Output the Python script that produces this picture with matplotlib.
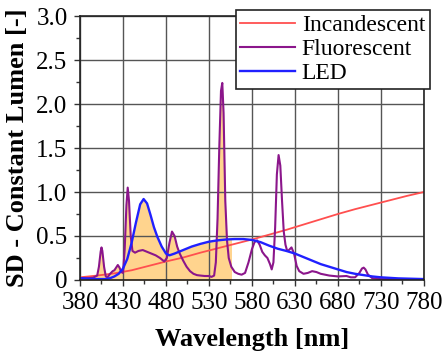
import matplotlib
matplotlib.use("Agg")
import matplotlib.pyplot as plt
from matplotlib.patches import Rectangle
from matplotlib.ticker import MultipleLocator, FixedLocator, FuncFormatter

# -------------------- Data -------------------- #

inc_nm = [380, 400, 420, 440, 460, 480, 500, 520, 540, 560, 580,
          600, 620, 640, 660, 680, 700, 720, 740, 760, 780]
inc_val = [0.03, 0.05, 0.075, 0.11, 0.16, 0.21, 0.255, 0.31, 0.36, 0.41, 0.46,
           0.515, 0.57, 0.63, 0.69, 0.75, 0.805, 0.855, 0.905, 0.955, 1.0]

flu_nm = [380, 385, 390, 395, 400, 402, 404, 405, 406, 408, 410, 412, 415, 418,
          420, 422, 424, 426, 428, 430, 432, 434, 435.5, 437, 439, 441, 444, 448,
          453, 458, 463, 468, 473, 478, 481, 484, 487, 490, 493, 496, 500, 504,
          508, 512, 516, 520, 525, 530, 533, 536, 538, 540, 542, 544, 545.5, 547,
          549, 551, 553, 556, 560, 564, 568, 572, 576, 580, 583, 586, 589, 592,
          595, 598, 601, 603, 605, 607, 609, 611, 613, 615, 617, 619, 621, 623,
          626, 629, 632, 635, 640, 645, 650, 655, 660, 670, 680, 690, 695, 700,
          705, 708, 710, 712, 715, 720, 730, 740, 760, 780]
flu_val = [0.02, 0.02, 0.02, 0.025, 0.05, 0.15, 0.32, 0.37, 0.33, 0.15, 0.04, 0.03,
           0.07, 0.1, 0.11, 0.14, 0.17, 0.14, 0.09, 0.08, 0.35, 0.85, 1.05, 0.9,
           0.5, 0.33, 0.31, 0.33, 0.34, 0.32, 0.3, 0.28, 0.25, 0.21, 0.25, 0.42,
           0.55, 0.5, 0.38, 0.3, 0.22, 0.15, 0.1, 0.07, 0.055, 0.05, 0.045, 0.045,
           0.035, 0.05, 0.2, 0.7, 1.5, 2.15, 2.24, 1.9, 0.9, 0.45, 0.25, 0.15,
           0.09, 0.07, 0.06, 0.08, 0.2, 0.35, 0.43, 0.45, 0.4, 0.32, 0.28, 0.25,
           0.18, 0.12, 0.2, 0.6, 1.2, 1.42, 1.3, 0.9, 0.55, 0.4, 0.33, 0.34, 0.37,
           0.3, 0.16, 0.1, 0.07, 0.08, 0.1, 0.09, 0.07, 0.05, 0.04, 0.045, 0.03,
           0.03, 0.08, 0.13, 0.14, 0.12, 0.06, 0.02, 0.01, 0.01, 0.01, 0.01]

led_nm = [380, 390, 400, 410, 415, 420, 425, 430, 435, 440, 445, 450, 454, 458,
          462, 466, 470, 475, 480, 484, 490, 500, 510, 520, 530, 540, 550, 560,
          570, 580, 590, 600, 610, 620, 630, 640, 650, 660, 670, 680, 690, 700,
          710, 720, 730, 750, 780]
led_val = [0.02, 0.015, 0.01, 0.01, 0.02, 0.04, 0.07, 0.13, 0.24, 0.42, 0.65,
           0.86, 0.92, 0.87, 0.74, 0.6, 0.49, 0.38, 0.3, 0.28, 0.3, 0.34, 0.38,
           0.41, 0.435, 0.45, 0.46, 0.465, 0.465, 0.455, 0.43, 0.39, 0.355, 0.33,
           0.3, 0.26, 0.22, 0.18, 0.15, 0.12, 0.09, 0.07, 0.055, 0.04, 0.03,
           0.018, 0.01]

labels = ["Incandescent", "Fluorescent", "LED"]
colors = ["#FF4F4F", "#8B168B", "#2020FF"]
fill_color = "#FFD48E"
fill_range = (380, 556)

x_ticks = [380, 430, 480, 530, 580, 630, 680, 730, 780]
x_minor = [405, 455, 505, 555, 605, 655, 705, 755]

# -------------------- Plot -------------------- #

plt.rcParams["font.family"] = "serif"
plt.rcParams["font.serif"] = ["Liberation Serif", "DejaVu Serif"]

fig = plt.figure(figsize=(4.42, 3.58), dpi=100)
ax = fig.add_axes([0.181, 0.218, 0.778, 0.737])

clip = Rectangle((fill_range[0], 0), fill_range[1] - fill_range[0], 10,
                 transform=ax.transData)
series = [(inc_nm, inc_val), (flu_nm, flu_val), (led_nm, led_val)]
# union of the areas under each curve = area under their maximum
for xs, ys in series:
    poly = ax.fill_between(xs, 0, ys, color=fill_color, lw=0, zorder=1)
    poly.set_clip_path(clip)

widths = [1.3, 1.5, 1.7]
for (xs, ys), lab, col, lw in zip(series, labels, colors, widths):
    ax.plot(xs, ys, color=col, lw=lw, label=lab, zorder=3)

ax.set_xlim(380, 780)
ax.set_ylim(0, 3.0)
ax.xaxis.set_major_locator(FixedLocator(x_ticks))
ax.xaxis.set_minor_locator(FixedLocator(x_minor))
ax.yaxis.set_major_locator(MultipleLocator(0.5))
ax.yaxis.set_minor_locator(MultipleLocator(0.25))
ax.xaxis.set_major_formatter(FuncFormatter(lambda v, p: f"{v:.0f}"))
ax.yaxis.set_major_formatter(FuncFormatter(lambda v, p: "0" if v == 0 else f"{v:.1f}"))

ax.grid(True, which="major", color="#555555", lw=1.0, zorder=2)
ax.set_axisbelow(False)
for s in ax.spines.values():
    s.set_color("#222222")
    s.set_linewidth(1.2)
    s.set_zorder(4)

ax.tick_params(which="major", direction="out", length=4, width=1,
               labelsize=18, color="#333333")
ax.tick_params(which="minor", direction="out", length=3, width=1, color="#333333")
ax.tick_params(axis="x", pad=5)
ax.tick_params(axis="y", pad=5)

ax.set_xlabel("Wavelength [nm]", fontsize=19, fontweight="bold", labelpad=10)
ax.set_ylabel("SD - Constant Lumen [-]", fontsize=19, fontweight="bold", labelpad=5)

leg = ax.legend(loc="upper right", bbox_to_anchor=(1.017, 1.023),
                borderaxespad=0, fontsize=17, fancybox=False, framealpha=1,
                edgecolor="#222222", borderpad=0.2, labelspacing=0.1,
                handlelength=2.3, handletextpad=0.3)
leg.get_frame().set_linewidth(1.2)
leg.set_zorder(5)

fig.savefig("out.png", dpi=100)
